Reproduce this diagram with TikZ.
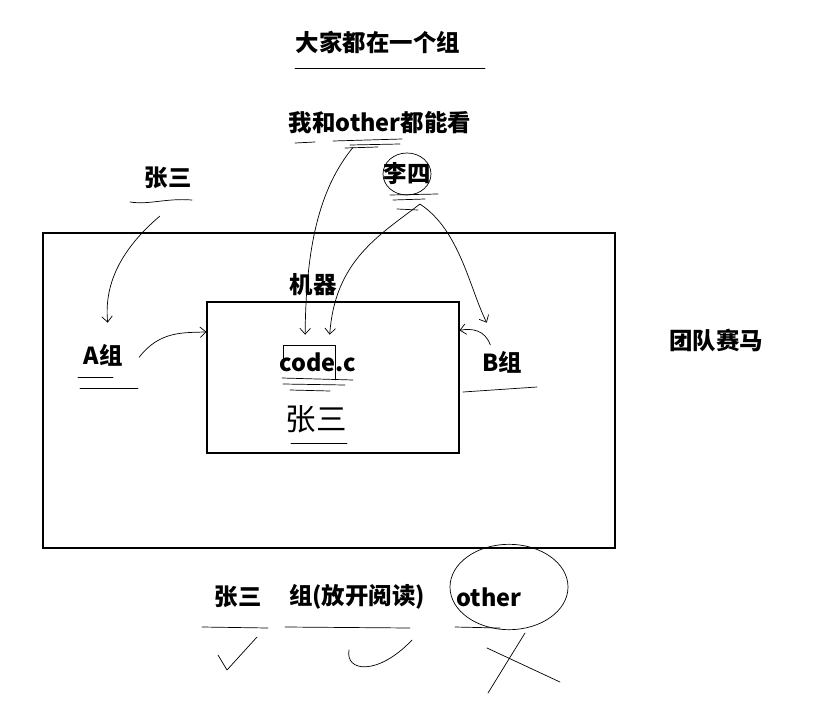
\documentclass[tikz,border=0pt]{standalone}
\usepackage{fontspec}
\setmainfont{Noto Sans CJK SC}
\usetikzlibrary{arrows.meta,calc}
\tikzset{
	lbl/.style={font=\fontsize{20}{24}\selectfont\bfseries,inner sep=1pt},
	box/.style={draw,line width=.9pt,inner sep=0pt},
	pen/.style={line width=.6pt,line cap=round,line join=round},
	arr/.style={pen,-{Straight Barb[length=5pt,width=9pt]}},
}
\begin{document}
\begin{tikzpicture}[x=.03cm,y=-.03cm]
		\useasboundingbox (0,0) rectangle (813,703);
		% 两个框
		\node[box,minimum width=17.16cm,minimum height=9.45cm] (field) at (329,390.5) {};
		\node[box,minimum width=7.56cm,minimum height=4.53cm] (host) at (333,377.5) {};
		% 文字
		\node[lbl] (title) at (378,42) {大家都在一个组};
		\node[lbl] (both) at (380,123) {我和other都能看};
		\node[lbl] (lisi) at (407,174) {李四};
		\node[lbl] (zsTop) at (168,178) {张三};
		\node[lbl] (machine) at (313,285) {机器};
		\node[lbl] (code) at (318,362) {code.c};
		\node[font=\fontsize{26}{30}\selectfont,inner sep=1pt] (zsHand) at (316,419) {张三};
		\node[lbl] (ga) at (103,355) {A组};
		\node[lbl] (gb) at (502,362) {B组};
		\node[lbl] (team) at (716,340) {团队赛马};
		\node[lbl] (uTag) at (238,597) {张三};
		\node[lbl] (gTag) at (357,597) {组(放开阅读)};
		\node[lbl] (oTag) at (489,597) {other};
		% 划线
		\draw[pen] (295,68)--(485,68);
		\draw[pen] (295,143)--(315,142) (333,141)--(402,139) (350,145)--(400,144) (345,148)--(378,147);
		\draw[pen] (390,195)--(438,194) (393,200)--(425,199) (397,209)--(418,210);
		\draw[pen] (130,202)..controls(150,205)and(165,198)..(192,200);
		\draw[pen] (283,370)--(283,345)--(335,345)--(335,380);
		\draw[pen] (282,378)--(353,380) (283,384)--(345,385) (290,390)--(330,391);
		\draw[pen] (291,443)--(347,443);
		\draw[pen] (78,377)--(113,377) (80,388)--(138,388);
		\draw[pen] (463,392)--(537,387);
		\foreach \a/\b in {202/268,285/410,455/500}
			\draw[pen] (\a,627)--(\b,628);
		% 圈
		\draw[pen] (lisi) ellipse[x radius=.72cm,y radius=.63cm];
		\draw[pen] (509,587) ellipse[x radius=1.77cm,y radius=1.28cm];
		% 对 半对 错
		\draw[pen] (218,655)--(227,670)--(257,637);
		\draw[pen] (349,650)..controls(345,672)and(378,676)..(412,640);
		\draw[pen] (487,648)--(560,682) (525,633)--(488,693);
		% 箭头
		\draw[arr] ([xshift=-7pt,yshift=-22pt]zsTop.south)..controls(120,250)and(104,285)..([xshift=4pt,yshift=17pt]ga.north);
		\draw[arr] ([xshift=13pt,yshift=-2pt]ga.east)..controls(160,330)and(185,333)..($(host.north west)!.2!(host.south west)$);
		\draw[arr] ([xshift=-23pt,yshift=-10pt]both.south)..controls(318,190)and(306,250)..([xshift=-11pt,yshift=14pt]code.north);
		\draw[arr] ([xshift=11pt,yshift=-15pt]lisi.south)..controls(380,235)and(335,260)..([xshift=10pt,yshift=14pt]code.north);
		\draw[arr] ([xshift=11pt,yshift=-15pt]lisi.south)..controls(460,230)and(470,290)..([xshift=-13pt,yshift=23pt]gb.north);
		\draw[arr] ([xshift=-10pt,yshift=4pt]gb.north)..controls(485,330)and(472,328)..($(host.north east)!.19!(host.south east)$);
\end{tikzpicture}
\end{document}
